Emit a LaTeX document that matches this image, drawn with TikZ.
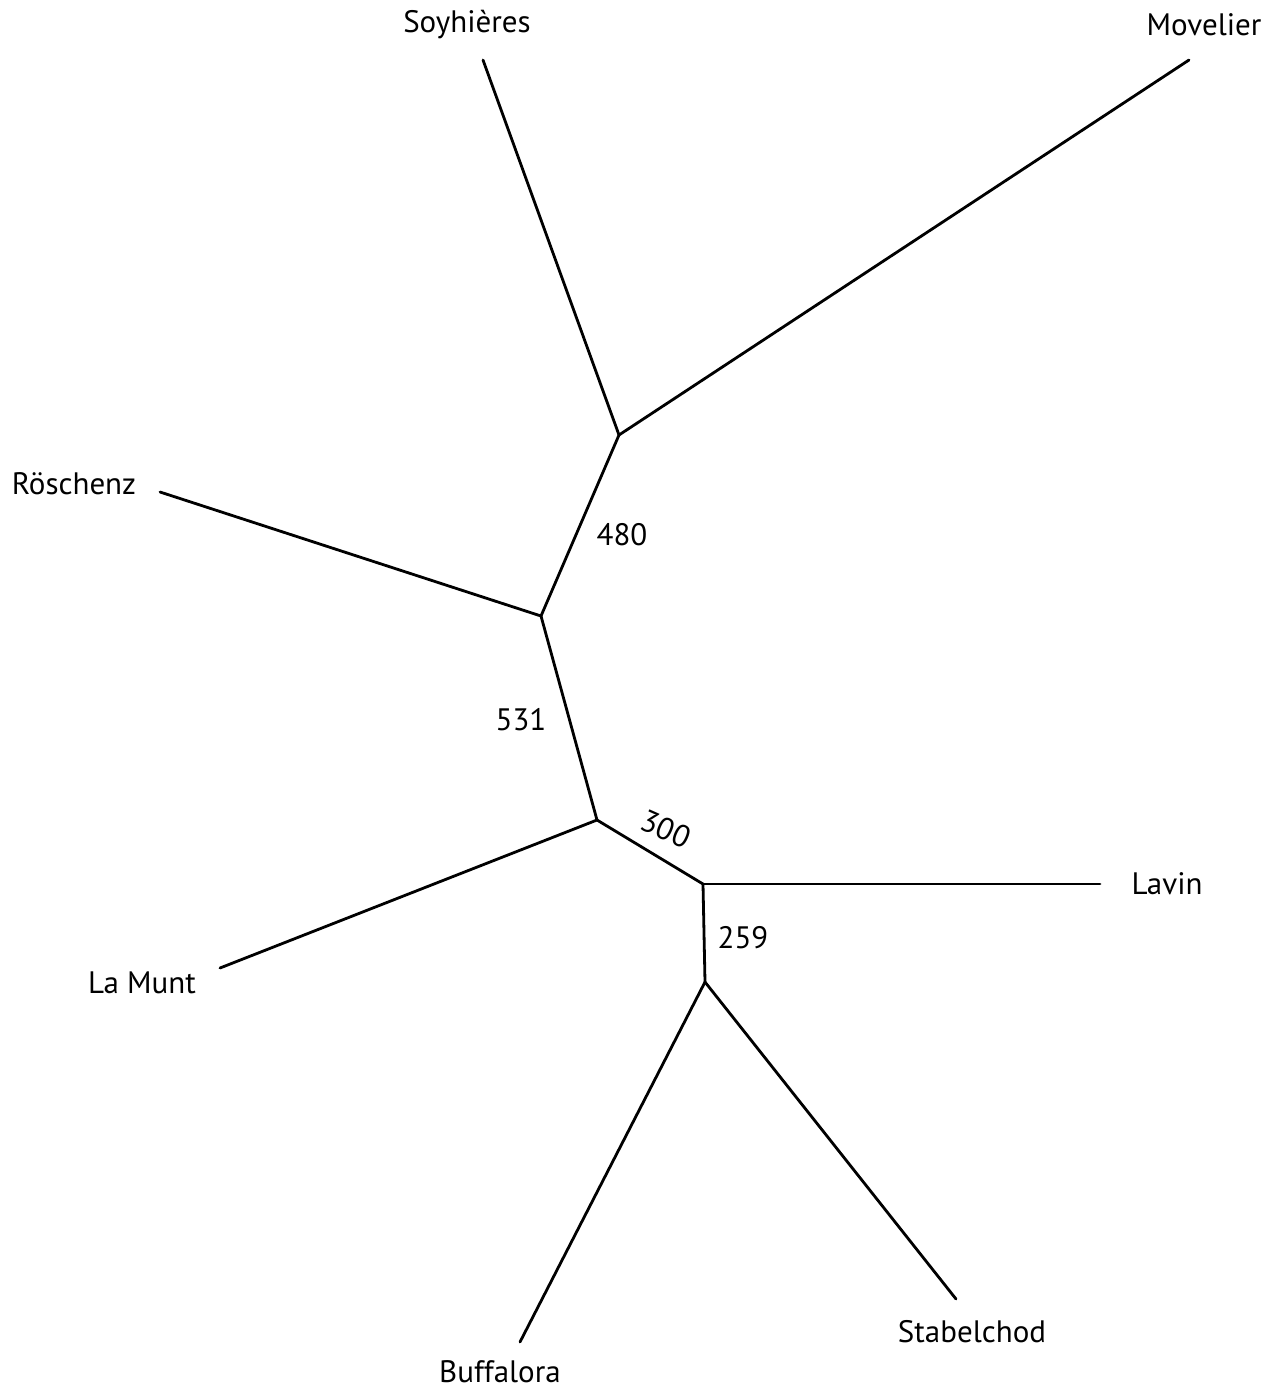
\documentclass[tikz,border=0pt]{standalone}
\usepackage{fontspec}
\setmainfont{PT Sans}
\begin{document}
\begin{tikzpicture}[x=1pt,y=-1pt,
  edge/.style={line width=2.8pt,line cap=round,line join=round},
  lbl/.style={font=\fontsize{31}{36}\selectfont,inner sep=0pt},
  num/.style={font=\fontsize{31}{36}\selectfont,inner sep=0pt}]
\useasboundingbox (0,0) rectangle (1269,1389);
% internal junctions
\coordinate (j1) at (619,435);
\coordinate (j2) at (541,616);
\coordinate (j3) at (597,820);
\coordinate (j4) at (703,884);
\coordinate (j5) at (705,982);
% leaf ends
\coordinate (soy) at (483,60);
\coordinate (mov) at (1189,60);
\coordinate (ros) at (160,492);
\coordinate (lam) at (220,968);
\coordinate (lav) at (1100,884);
\coordinate (buf) at (520,1342);
\coordinate (sta) at (956,1299);
% edges
\draw[edge] (soy) -- (j1);
\draw[edge] (mov) -- (j1);
\draw[edge] (j1) -- (j2);
\draw[edge] (ros) -- (j2);
\draw[edge] (j2) -- (j3);
\draw[edge] (lam) -- (j3);
\draw[edge] (j3) -- (j4);
\draw[edge] (j4) -- (lav);
\draw[edge] (j4) -- (j5);
\draw[edge] (j5) -- (buf);
\draw[edge] (j5) -- (sta);
% leaf labels
\node[lbl] (tsoy) at (467,25) {Soyhières};
\node[lbl] (tmov) at (1204,25) {Movelier};
\node[lbl] (tros) at (74,484) {Röschenz};
\node[lbl] (tlam) at (142,983) {La Munt};
\node[lbl] (tlav) at (1167,884) {Lavin};
\node[lbl] (tbuf) at (500,1372) {Buffalora};
\node[lbl] (tsta) at (972,1332) {Stabelchod};
% edge labels
\node[num] (n480) at (622,535) {480};
\node[num] (n531) at (521,720) {531};
\node[num,rotate=-24] (n300) at (666,829) {300};
\node[num] (n259) at (743,938) {259};
\end{tikzpicture}
\end{document}
